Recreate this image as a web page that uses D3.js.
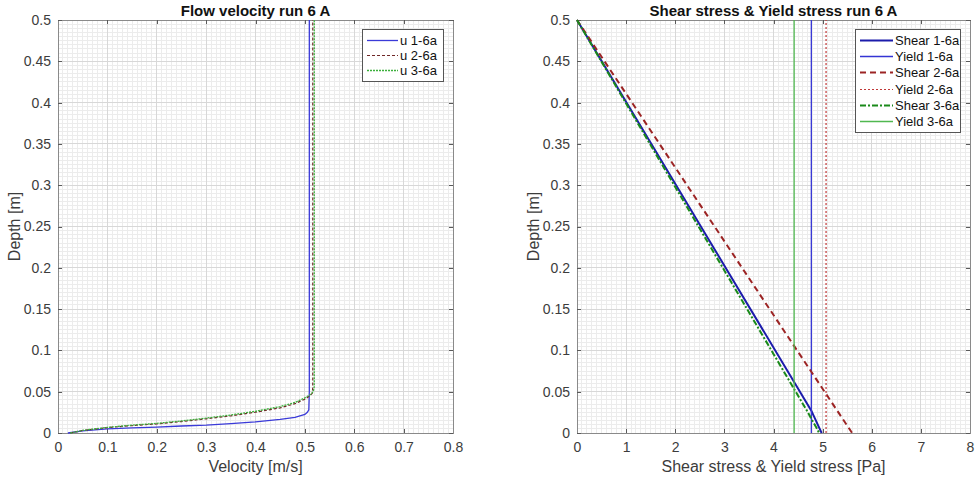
<!DOCTYPE html>
<html>
<head>
<meta charset="utf-8">
<script src="https://cdn.jsdelivr.net/npm/d3@7"></script>
<style>
body { margin: 0; background: #fff; }
svg { font-family: "Liberation Sans", Arial, sans-serif; }
</style>
</head>
<body>
<div id="chart"></div>
<script>
// ---- data ----
const velTicks = [0, 0.1, 0.2, 0.3, 0.4, 0.5, 0.6, 0.7, 0.8];
const stressTicks = [0, 1, 2, 3, 4, 5, 6, 7, 8];
const depthTicks = [0, 0.05, 0.1, 0.15, 0.2, 0.25, 0.3, 0.35, 0.4, 0.45, 0.5];

// velocity profiles (velocity [m/s], depth [m])
const u1Vel   = [0.02, 0.05, 0.1, 0.15, 0.2, 0.25, 0.3, 0.35, 0.4, 0.45, 0.48, 0.5, 0.505, 0.508, 0.509, 0.509];
const u1Depth = [0, 0.0025, 0.005, 0.0062, 0.0072, 0.0085, 0.0095, 0.0113, 0.0135, 0.0165, 0.019, 0.0225, 0.025, 0.028, 0.05, 0.5];
const u2Vel   = [0.025, 0.05, 0.1, 0.15, 0.2, 0.25, 0.3, 0.35, 0.4, 0.45, 0.48, 0.5, 0.51, 0.515, 0.516, 0.516];
const u2Depth = [0, 0.003, 0.0065, 0.009, 0.011, 0.0138, 0.0172, 0.0208, 0.0252, 0.0305, 0.0355, 0.041, 0.045, 0.048, 0.055, 0.5];
const u3Vel   = [0.025, 0.05, 0.1, 0.15, 0.2, 0.25, 0.3, 0.35, 0.4, 0.45, 0.48, 0.5, 0.511, 0.517, 0.519, 0.519];
const u3Depth = [0, 0.0032, 0.0068, 0.0095, 0.0117, 0.0146, 0.018, 0.0218, 0.0263, 0.032, 0.037, 0.0425, 0.0465, 0.05, 0.056, 0.5];

// shear stress profiles (stress [Pa], depth [m])
const shear1Stress = [0, 4.7, 4.77, 4.84, 4.91, 4.98];
const shear1Depth  = [0.5, 0.034, 0.027, 0.018, 0.009, 0];
const shear2Stress = [0, 2.8, 5.6];
const shear2Depth  = [0.5, 0.25, 0];
const shear3Stress = [0, 4.63, 4.7, 4.78, 4.86, 4.93];
const shear3Depth  = [0.5, 0.032, 0.025, 0.016, 0.008, 0];
const yieldStress  = [4.77, 5.07, 4.42];

const width = 977, height = 478;
const plotTop = 20, plotBottom = 433;

const svg = d3.select('#chart').append('svg')
    .attr('width', width)
    .attr('height', height);

const fmt = d => String(+d.toFixed(3));
const zip = (xs, ys) => xs.map((v, i) => [v, ys[i]]);

function drawPanel(p) {
    const x = d3.scaleLinear().domain(p.xDomain).range([p.left, p.right]);
    const y = d3.scaleLinear().domain([0, 0.5]).range([plotBottom, plotTop]);
    const g = svg.append('g');

    // minor grid
    const grid = g.append('g').attr('shape-rendering', 'crispEdges');
    grid.append('g').selectAll('line').data(x.ticks(p.xMinor)).join('line')
        .attr('x1', d => x(d)).attr('x2', d => x(d))
        .attr('y1', plotTop).attr('y2', plotBottom)
        .attr('stroke', '#ececec');
    grid.append('g').selectAll('line').data(y.ticks(100)).join('line')
        .attr('x1', p.left).attr('x2', p.right)
        .attr('y1', d => y(d)).attr('y2', d => y(d))
        .attr('stroke', '#ececec');
    // major grid
    grid.append('g').selectAll('line').data(p.xTicks).join('line')
        .attr('x1', d => x(d)).attr('x2', d => x(d))
        .attr('y1', plotTop).attr('y2', plotBottom)
        .attr('stroke', '#d8d8d8');
    grid.append('g').selectAll('line').data(depthTicks).join('line')
        .attr('x1', p.left).attr('x2', p.right)
        .attr('y1', d => y(d)).attr('y2', d => y(d))
        .attr('stroke', '#d8d8d8');

    // axes (ticks inward, box on)
    const styleAxis = sel => {
        sel.attr('shape-rendering', 'crispEdges');
        sel.select('.domain').attr('stroke', '#8a8a8a');
        sel.selectAll('.tick line').attr('stroke', '#5a5a5a');
        sel.selectAll('.tick text').attr('fill', '#3c3c3c').style('font-size', '14px');
    };
    g.append('g').attr('transform', `translate(0,${plotBottom})`)
        .call(d3.axisBottom(x).tickValues(p.xTicks).tickSize(-4).tickSizeOuter(0).tickPadding(9).tickFormat(fmt))
        .call(styleAxis);
    g.append('g').attr('transform', `translate(0,${plotTop})`)
        .call(d3.axisTop(x).tickValues(p.xTicks).tickSize(-4).tickSizeOuter(0).tickFormat(''))
        .call(styleAxis);
    g.append('g').attr('transform', `translate(${p.left},0)`)
        .call(d3.axisLeft(y).tickValues(depthTicks).tickSize(-4).tickSizeOuter(0).tickPadding(7).tickFormat(fmt))
        .call(styleAxis);
    g.append('g').attr('transform', `translate(${p.right},0)`)
        .call(d3.axisRight(y).tickValues(depthTicks).tickSize(-4).tickSizeOuter(0).tickFormat(''))
        .call(styleAxis);

    // series
    const line = d3.line().x(d => x(d[0])).y(d => y(d[1]));
    p.series.forEach(s => {
        g.append('path')
            .datum(s.vertical !== undefined ? [[s.vertical, 0], [s.vertical, 0.5]] : zip(s.xs, s.ys))
            .attr('d', line)
            .attr('fill', 'none')
            .attr('stroke', s.color)
            .attr('stroke-width', s.w)
            .attr('stroke-dasharray', s.dash || null);
    });

    // title and labels
    const cx = (p.left + p.right) / 2;
    svg.append('text').attr('x', cx).attr('y', 15.5)
        .attr('text-anchor', 'middle').style('font-size', '15px').style('font-weight', 'bold')
        .attr('fill', '#111').text(p.title);
    svg.append('text').attr('x', cx).attr('y', 472)
        .attr('text-anchor', 'middle').style('font-size', '16px')
        .attr('fill', '#3c3c3c').text(p.xLabel);
    svg.append('text')
        .attr('transform', `translate(${p.left - 38},${(plotTop + plotBottom) / 2}) rotate(-90)`)
        .attr('text-anchor', 'middle').style('font-size', '16px')
        .attr('fill', '#3c3c3c').text('Depth [m]');

    // legend
    const L = p.legend;
    const lg = svg.append('g');
    lg.append('rect')
        .attr('x', L.x + 0.5).attr('y', L.y + 0.5)
        .attr('width', L.w).attr('height', 22 + (p.series.length - 1) * L.step)
        .attr('fill', '#fff').attr('stroke', '#555').attr('stroke-width', 1);
    p.series.forEach((s, i) => {
        const ly = Math.round(L.y + 11 + i * L.step) + 0.5;
        lg.append('line')
            .attr('x1', L.x + 5).attr('x2', L.x + 5 + L.lineLen)
            .attr('y1', ly).attr('y2', ly)
            .attr('stroke', s.color).attr('stroke-width', s.w)
            .attr('stroke-dasharray', s.dash || null);
        lg.append('text')
            .attr('x', L.x + 7 + L.lineLen).attr('y', ly + 4.5)
            .style('font-size', '13px').attr('fill', '#111').text(s.name);
    });
}

drawPanel({
    left: 58, right: 453, xDomain: [0, 0.8], xTicks: velTicks, xMinor: 80,
    title: 'Flow velocity run 6 A', xLabel: 'Velocity [m/s]',
    legend: { x: 362, y: 29, w: 81, step: 15, lineLen: 31 },
    series: [
        { name: 'u 1-6a', xs: u1Vel, ys: u1Depth, color: '#3a3ad8', w: 1.3 },
        { name: 'u 2-6a', xs: u2Vel, ys: u2Depth, color: '#702828', w: 1.2, dash: '3,2' },
        { name: 'u 3-6a', xs: u3Vel, ys: u3Depth, color: '#3cb03c', w: 1.3, dash: '2,1' }
    ]
});

drawPanel({
    left: 577, right: 970, xDomain: [0, 8], xTicks: stressTicks, xMinor: 80,
    title: 'Shear stress & Yield stress run 6 A', xLabel: 'Shear stress & Yield stress [Pa]',
    legend: { x: 855, y: 29, w: 105, step: 16.2, lineLen: 33 },
    series: [
        { name: 'Shear 1-6a', xs: shear1Stress, ys: shear1Depth, color: '#1c1cab', w: 2 },
        { name: 'Yield 1-6a', vertical: yieldStress[0], color: '#3434d4', w: 1.3 },
        { name: 'Shear 2-6a', xs: shear2Stress, ys: shear2Depth, color: '#9c2424', w: 2, dash: '6,4' },
        { name: 'Yield 2-6a', vertical: yieldStress[1], color: '#c03838', w: 1.2, dash: '2,2' },
        { name: 'Shear 3-6a', xs: shear3Stress, ys: shear3Depth, color: '#1a8a1a', w: 2, dash: '6,2,2,2' },
        { name: 'Yield 3-6a', vertical: yieldStress[2], color: '#50b850', w: 1.3 }
    ]
});
</script>
</body>
</html>
